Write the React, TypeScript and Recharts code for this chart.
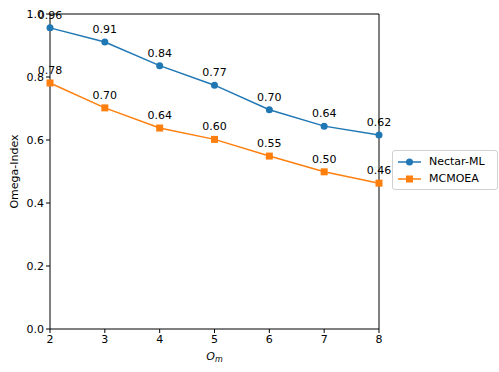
import { LineChart, Line, XAxis, YAxis, LabelList, ReferenceLine } from "recharts";

const omValues = [2, 3, 4, 5, 6, 7, 8];
const nectarML = [0.956, 0.911, 0.836, 0.774, 0.696, 0.644, 0.616];
const mcmoea = [0.781, 0.702, 0.638, 0.602, 0.549, 0.499, 0.463];
const yTicks = [0, 0.2, 0.4, 0.6, 0.8, 1.0];

const data = omValues.map((om, i) => ({ om, nectar: nectarML[i], mcmoea: mcmoea[i] }));

const BLUE = "#1f77b4";
const ORANGE = "#ff7f0e";
const FONT = "'DejaVu Sans', sans-serif";

const SquareDot = (props: any) => {
  const { cx, cy, index } = props;
  return <rect key={index} x={cx - 3.5} y={cy - 3.5} width={7} height={7} fill={ORANGE} />;
};

const LegendBox = () => (
  <div
    style={{
      position: "absolute",
      left: 392,
      top: 150,
      border: "1px solid #d0d0d0",
      borderRadius: 3,
      background: "#fff",
      width: 104,
      padding: "2px 0",
      fontFamily: FONT,
      fontSize: 11,
      color: "#000",
    }}
  >
    {[
      { name: "Nectar-ML", color: BLUE, square: false },
      { name: "MCMOEA", color: ORANGE, square: true },
    ].map((it) => (
      <div key={it.name} style={{ display: "flex", alignItems: "center", height: 17 }}>
        <svg width={30} height={12} style={{ marginLeft: 3 }}>
          <line x1={2} y1={6} x2={25} y2={6} stroke={it.color} strokeWidth={1.5} />
          {it.square ? (
            <rect x={10} y={2.5} width={7} height={7} fill={it.color} />
          ) : (
            <circle cx={13.5} cy={6} r={3.5} fill={it.color} />
          )}
        </svg>
        <span style={{ marginLeft: 3 }}>{it.name}</span>
      </div>
    ))}
  </div>
);

const XLabel = (props: any) => {
  const { viewBox } = props;
  const x = viewBox.x + viewBox.width / 2;
  return (
    <text x={x} y={viewBox.y + 31} textAnchor="middle" fontFamily={FONT} fontSize={11} fill="#000">
      <tspan fontStyle="italic">O</tspan>
      <tspan fontStyle="italic" fontSize={8} dy={2}>m</tspan>
    </text>
  );
};

export default function App() {
  return (
    <div style={{ position: "absolute", left: 0, top: 0, width: 499, height: 372, background: "#fff" }}>
      <LineChart width={499} height={372} data={data} margin={{ top: 14, right: 120, bottom: 18, left: 0 }}>
        <XAxis
          dataKey="om"
          type="number"
          domain={[2, 8]}
          ticks={omValues}
          stroke="#000"
          tickSize={4}
          tick={{ fontFamily: FONT, fontSize: 11, fill: "#000" }}
          height={25}
          label={<XLabel />}
        />
        <YAxis
          type="number"
          domain={[0, 1]}
          ticks={yTicks}
          stroke="#000"
          tickSize={4}
          width={50}
          tickFormatter={(v: number) => v.toFixed(1)}
          tick={{ fontFamily: FONT, fontSize: 11, fill: "#000" }}
          label={{
            value: "Omega-Index",
            angle: -90,
            position: "insideLeft",
            offset: 14,
            style: { fontFamily: FONT, fontSize: 11, fill: "#000", textAnchor: "middle" },
          }}
        />
        <ReferenceLine y={1} stroke="#000" />
        <ReferenceLine x={8} stroke="#000" />
        <Line
          dataKey="nectar"
          name="Nectar-ML"
          stroke={BLUE}
          strokeWidth={1.5}
          dot={{ r: 3.5, fill: BLUE, stroke: BLUE, strokeWidth: 0 }}
          isAnimationActive={false}
        >
          <LabelList
            dataKey="nectar"
            position="top"
            offset={9}
            formatter={(v: any) => Number(v).toFixed(2)}
            style={{ fontFamily: FONT, fontSize: 11, fill: "#000" }}
          />
        </Line>
        <Line
          dataKey="mcmoea"
          name="MCMOEA"
          stroke={ORANGE}
          strokeWidth={1.5}
          dot={<SquareDot />}
          isAnimationActive={false}
        >
          <LabelList
            dataKey="mcmoea"
            position="top"
            offset={9}
            formatter={(v: any) => Number(v).toFixed(2)}
            style={{ fontFamily: FONT, fontSize: 11, fill: "#000" }}
          />
        </Line>
      </LineChart>
      <LegendBox />
    </div>
  );
}
